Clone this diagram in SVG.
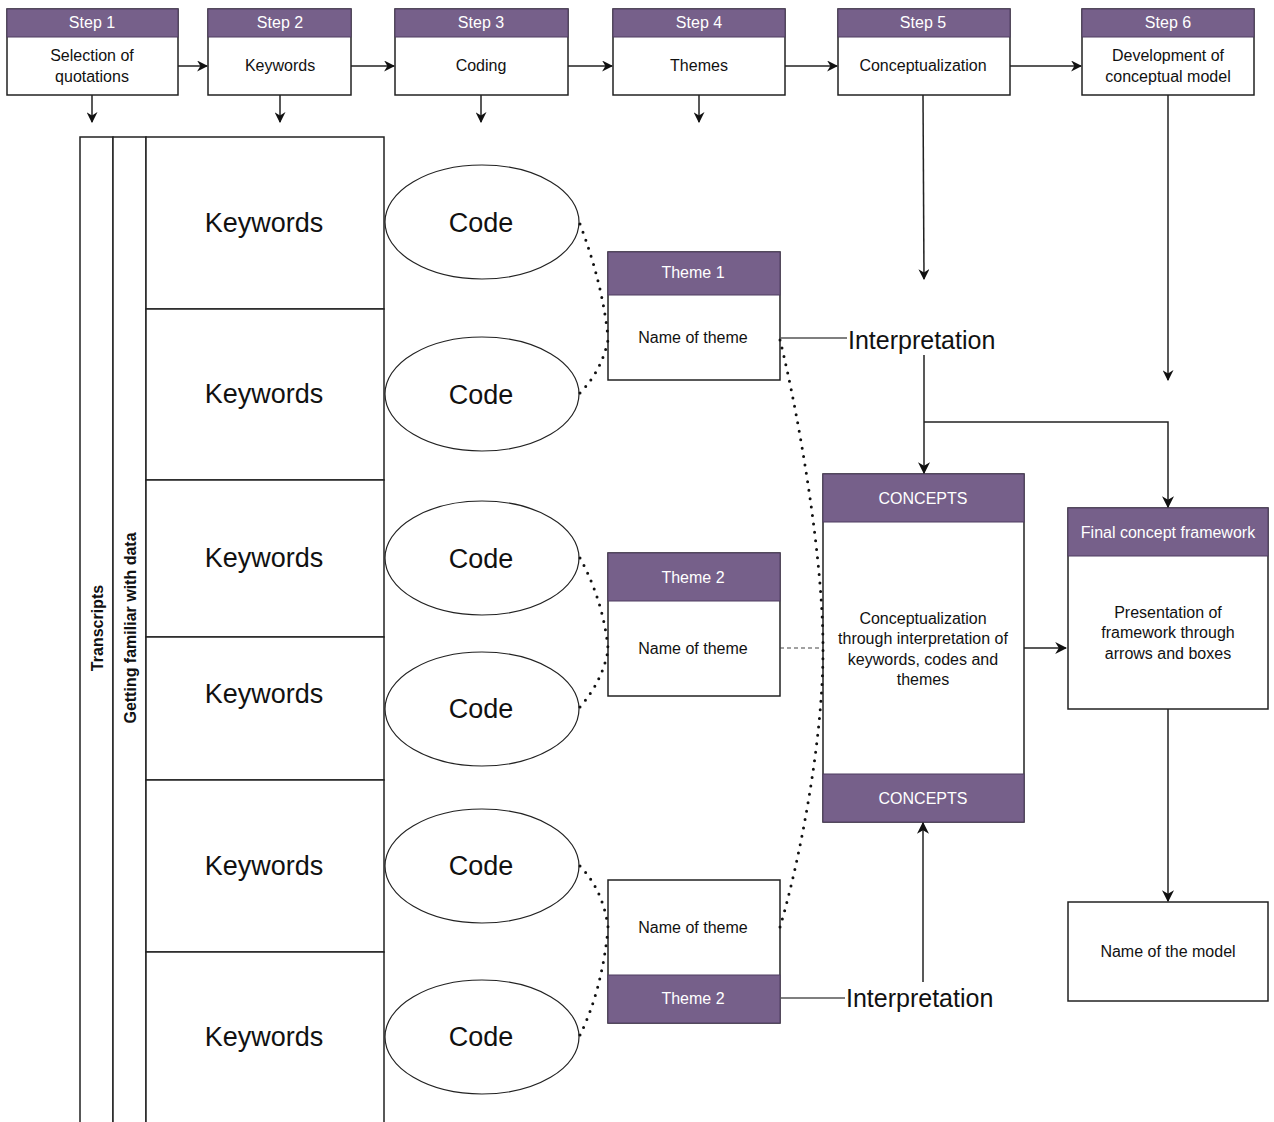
<svg xmlns="http://www.w3.org/2000/svg" width="1274" height="1122" viewBox="0 0 1274 1122">
  <defs>
    <marker id="arrow" viewBox="0 0 10 10" refX="9" refY="5" markerWidth="11" markerHeight="11" markerUnits="userSpaceOnUse" orient="auto">
      <path d="M0,0 L10,5 L0,10 L3,5 Z" fill="#111"/>
    </marker>
    <marker id="arrowL" viewBox="0 0 10 10" refX="9" refY="5" markerWidth="12" markerHeight="12" markerUnits="userSpaceOnUse" orient="auto">
      <path d="M0,0 L10,5 L0,10 L3,5 Z" fill="#111"/>
    </marker>
  </defs>
  <style>
    text { font-family: "Liberation Sans", Arial, sans-serif; }
    .box { fill: #ffffff; stroke: #222; stroke-width: 1.5; }
    .hdr { fill: #76608a; stroke: #4f3d60; stroke-width: 1; }
    .ht { fill: #ffffff; font-size: 16px; text-anchor: middle; dominant-baseline: central; }
    .bt { fill: #111; font-size: 16px; text-anchor: middle; dominant-baseline: central; }
    .big { fill: #111; font-size: 27px; text-anchor: middle; dominant-baseline: central; }
    .interp { fill: #111; font-size: 25px; dominant-baseline: central; }
    .side { fill: #111; font-size: 16px; font-weight: bold; text-anchor: middle; dominant-baseline: central; }
    .ell { fill: #ffffff; stroke: #222; stroke-width: 1.2; }
    .line { fill: none; stroke: #222; stroke-width: 1.5; }
    .gline { fill: none; stroke: #555; stroke-width: 1.5; }
    .dot { fill: none; stroke: #111; stroke-width: 3; stroke-linecap: round; stroke-dasharray: 0 8.5; }
    .dash { fill: none; stroke: #444; stroke-width: 1.2; stroke-dasharray: 4 3; }
  </style>

  <rect width="1274" height="1122" fill="#ffffff"/>

  <!-- Process steps -->
  <g id="step1">
    <rect class="box" x="7" y="9" width="171" height="86"/>
    <rect class="hdr" x="7" y="9" width="171" height="28"/>
    <text class="ht" x="92" y="22">Step 1</text>
    <text class="bt" x="92" y="55">Selection of</text>
    <text class="bt" x="92" y="76">quotations</text>
  </g>
  <g id="step2">
    <rect class="box" x="208" y="9" width="143" height="86"/>
    <rect class="hdr" x="208" y="9" width="143" height="28"/>
    <text class="ht" x="280" y="22">Step 2</text>
    <text class="bt" x="280" y="65">Keywords</text>
  </g>
  <g id="step3">
    <rect class="box" x="395" y="9" width="173" height="86"/>
    <rect class="hdr" x="395" y="9" width="173" height="28"/>
    <text class="ht" x="481" y="22">Step 3</text>
    <text class="bt" x="481" y="65">Coding</text>
  </g>
  <g id="step4">
    <rect class="box" x="613" y="9" width="172" height="86"/>
    <rect class="hdr" x="613" y="9" width="172" height="28"/>
    <text class="ht" x="699" y="22">Step 4</text>
    <text class="bt" x="699" y="65">Themes</text>
  </g>
  <g id="step5">
    <rect class="box" x="838" y="9" width="172" height="86"/>
    <rect class="hdr" x="838" y="9" width="172" height="28"/>
    <text class="ht" x="923" y="22">Step 5</text>
    <text class="bt" x="923" y="65">Conceptualization</text>
  </g>
  <g id="step6">
    <rect class="box" x="1082" y="9" width="172" height="86"/>
    <rect class="hdr" x="1082" y="9" width="172" height="28"/>
    <text class="ht" x="1168" y="22">Step 6</text>
    <text class="bt" x="1168" y="55">Development of</text>
    <text class="bt" x="1168" y="76">conceptual model</text>
  </g>

  <!-- Transcript lanes -->
  <g id="transcripts">
    <rect class="box" x="80" y="137" width="33" height="990"/>
    <text class="side" transform="translate(97,628) rotate(-90)">Transcripts</text>
  </g>
  <g id="familiar">
    <rect class="box" x="113" y="137" width="33" height="990"/>
    <text class="side" transform="translate(130,628) rotate(-90)">Getting familiar with data</text>
  </g>

  <!-- Keyword cells -->
  <g id="kw1"><rect class="box" x="146" y="137" width="238" height="172"/><text class="big" x="264" y="223">Keywords</text></g>
  <g id="kw2"><rect class="box" x="146" y="309" width="238" height="171"/><text class="big" x="264" y="394">Keywords</text></g>
  <g id="kw3"><rect class="box" x="146" y="480" width="238" height="157"/><text class="big" x="264" y="558">Keywords</text></g>
  <g id="kw4"><rect class="box" x="146" y="637" width="238" height="143"/><text class="big" x="264" y="694">Keywords</text></g>
  <g id="kw5"><rect class="box" x="146" y="780" width="238" height="172"/><text class="big" x="264" y="866">Keywords</text></g>
  <g id="kw6"><rect class="box" x="146" y="952" width="238" height="175"/><text class="big" x="264" y="1037">Keywords</text></g>

  <!-- Code ellipses -->
  <g id="code1"><ellipse class="ell" cx="482" cy="222" rx="97" ry="57"/><text class="big" x="481" y="223">Code</text></g>
  <g id="code2"><ellipse class="ell" cx="482" cy="394" rx="97" ry="57"/><text class="big" x="481" y="395">Code</text></g>
  <g id="code3"><ellipse class="ell" cx="482" cy="558" rx="97" ry="57"/><text class="big" x="481" y="559">Code</text></g>
  <g id="code4"><ellipse class="ell" cx="482" cy="709" rx="97" ry="57"/><text class="big" x="481" y="709">Code</text></g>
  <g id="code5"><ellipse class="ell" cx="482" cy="866" rx="97" ry="57"/><text class="big" x="481" y="866">Code</text></g>
  <g id="code6"><ellipse class="ell" cx="482" cy="1037" rx="97" ry="57"/><text class="big" x="481" y="1037">Code</text></g>

  <!-- Themes -->
  <g id="theme1">
    <rect class="box" x="608" y="252" width="172" height="128"/>
    <rect class="hdr" x="608" y="252" width="172" height="43"/>
    <text class="ht" x="693" y="272">Theme 1</text>
    <text class="bt" x="693" y="337">Name of theme</text>
  </g>
  <g id="theme2">
    <rect class="box" x="608" y="553" width="172" height="143"/>
    <rect class="hdr" x="608" y="553" width="172" height="48"/>
    <text class="ht" x="693" y="577">Theme 2</text>
    <text class="bt" x="693" y="648">Name of theme</text>
  </g>
  <g id="theme3">
    <rect class="box" x="608" y="880" width="172" height="143"/>
    <rect class="hdr" x="608" y="975" width="172" height="48"/>
    <text class="bt" x="693" y="927">Name of theme</text>
    <text class="ht" x="693" y="998">Theme 2</text>
  </g>

  <!-- Concepts -->
  <g id="concepts">
    <rect class="box" x="823" y="474" width="201" height="348"/>
    <rect class="hdr" x="823" y="474" width="201" height="48"/>
    <rect class="hdr" x="823" y="774" width="201" height="48"/>
    <text class="ht" x="923" y="498">CONCEPTS</text>
    <text class="bt" x="923" y="618">Conceptualization</text>
    <text class="bt" x="923" y="638">through interpretation of</text>
    <text class="bt" x="923" y="659">keywords, codes and</text>
    <text class="bt" x="923" y="679">themes</text>
    <text class="ht" x="923" y="798">CONCEPTS</text>
  </g>

  <!-- Final framework -->
  <g id="framework">
    <rect class="box" x="1068" y="508" width="200" height="201"/>
    <rect class="hdr" x="1068" y="508" width="200" height="48"/>
    <text class="ht" x="1168" y="532">Final concept framework</text>
    <text class="bt" x="1168" y="612">Presentation of</text>
    <text class="bt" x="1168" y="632">framework through</text>
    <text class="bt" x="1168" y="653">arrows and boxes</text>
  </g>
  <g id="model">
    <rect class="box" x="1068" y="902" width="200" height="99"/>
    <text class="bt" x="1168" y="951">Name of the model</text>
  </g>

  <!-- Interpretation labels -->
  <g id="interp1"><text class="interp" x="848" y="340">Interpretation</text></g>
  <g id="interp2"><text class="interp" x="846" y="998">Interpretation</text></g>

  <!-- Connectors -->
  <g id="connectors">
    <!-- step sequence -->
    <line class="line" x1="178" y1="66" x2="207" y2="66" marker-end="url(#arrow)"/>
    <line class="line" x1="351" y1="66" x2="394" y2="66" marker-end="url(#arrow)"/>
    <line class="line" x1="568" y1="66" x2="612" y2="66" marker-end="url(#arrow)"/>
    <line class="line" x1="785" y1="66" x2="837" y2="66" marker-end="url(#arrow)"/>
    <line class="line" x1="1010" y1="66" x2="1081" y2="66" marker-end="url(#arrow)"/>

    <!-- step drop arrows -->
    <line class="line" x1="92" y1="95" x2="92" y2="122" marker-end="url(#arrow)"/>
    <line class="line" x1="280" y1="95" x2="280" y2="122" marker-end="url(#arrow)"/>
    <line class="line" x1="481" y1="95" x2="481" y2="122" marker-end="url(#arrow)"/>
    <line class="line" x1="699" y1="95" x2="699" y2="122" marker-end="url(#arrow)"/>
    <line class="line" x1="923" y1="95" x2="924" y2="279" marker-end="url(#arrow)"/>
    <line class="line" x1="1168" y1="95" x2="1168" y2="380" marker-end="url(#arrow)"/>

    <!-- codes to themes -->
    <path class="dot" d="M580,224 Q603,285 608,338"/>
    <path class="dot" d="M580,393 Q602,370 608,340"/>
    <path class="dot" d="M580,558 Q603,600 608,648"/>
    <path class="dot" d="M580,707 Q603,680 608,650"/>
    <path class="dot" d="M580,866 Q603,890 608,927"/>
    <path class="dot" d="M580,1035 Q602,990 608,929"/>

    <!-- themes to concepts -->
    <path class="dot" d="M780,340 C800,420 823,560 823,648"/>
    <path class="dot" d="M780,927 C800,860 823,740 823,650"/>
    <line class="dash" x1="780" y1="648" x2="823" y2="648"/>

    <!-- interpretation links -->
    <line class="gline" x1="780" y1="338" x2="847" y2="338"/>
    <line class="gline" x1="780" y1="998" x2="845" y2="998"/>
    <line class="line" x1="924" y1="355" x2="924" y2="473" marker-end="url(#arrowL)"/>
    <polyline class="line" points="924,422 1168,422 1168,507" marker-end="url(#arrowL)"/>
    <line class="line" x1="923" y1="982" x2="923" y2="823" marker-end="url(#arrowL)"/>

    <!-- concepts to framework to model -->
    <line class="line" x1="1024" y1="648" x2="1066" y2="648" marker-end="url(#arrowL)"/>
    <line class="line" x1="1168" y1="709" x2="1168" y2="901" marker-end="url(#arrowL)"/>
  </g>
</svg>
